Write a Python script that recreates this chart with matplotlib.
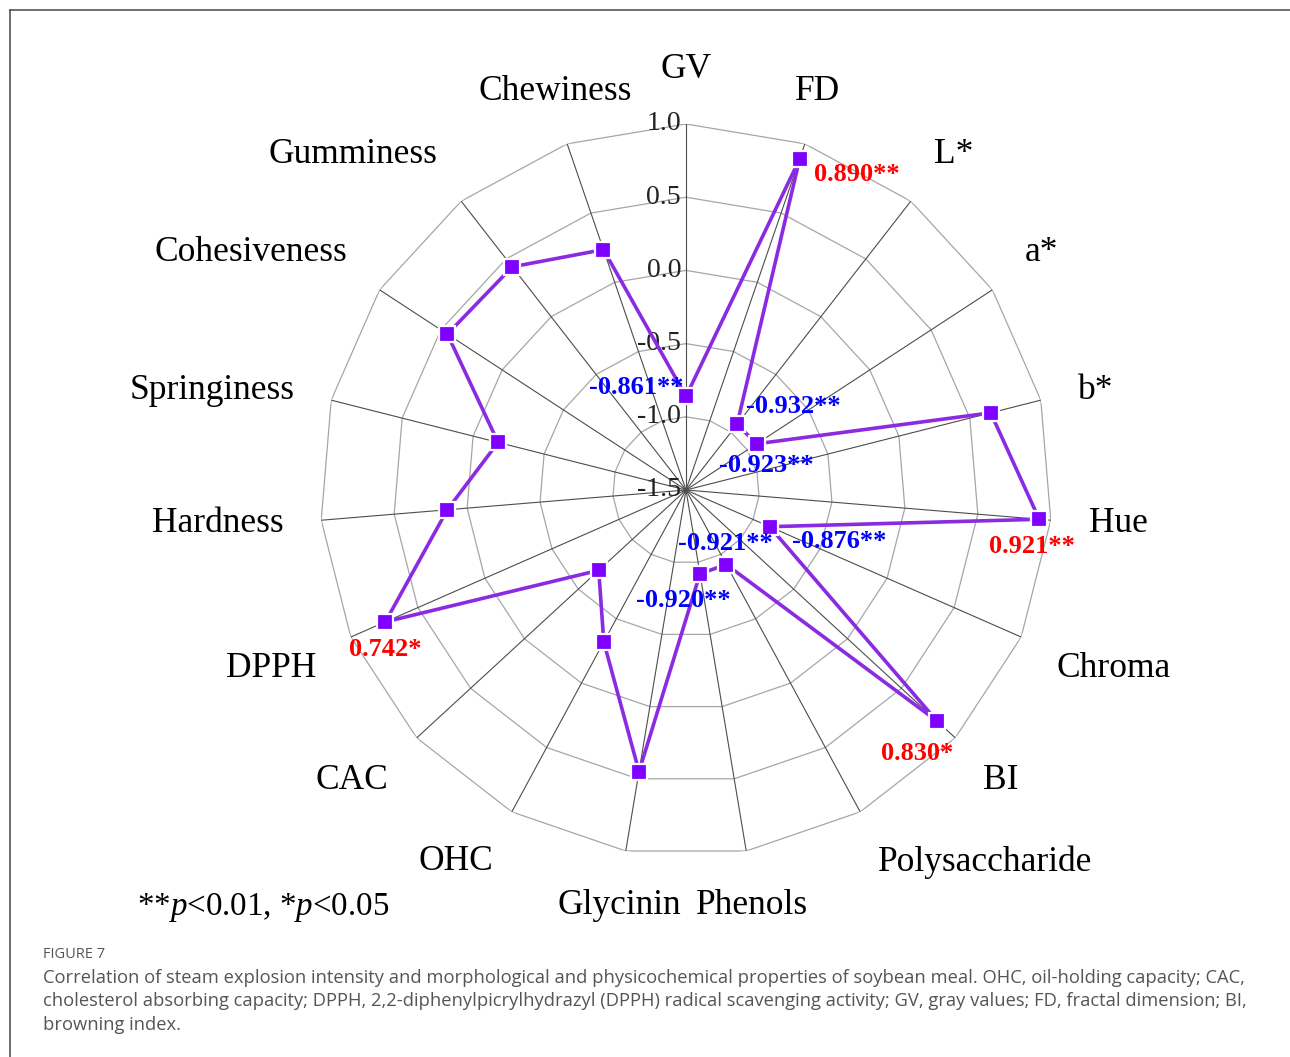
import numpy as np
import matplotlib
matplotlib.use("Agg")
import matplotlib.pyplot as plt
from matplotlib.lines import Line2D

plt.rcParams['font.family'] = ['Liberation Serif', 'DejaVu Serif']
plt.rcParams['mathtext.fontset'] = 'custom'
plt.rcParams['mathtext.rm'] = 'Liberation Serif'
plt.rcParams['mathtext.it'] = 'Liberation Serif:italic'

# correlation coefficients
categories = ["GV", "FD", "L*", "a*", "b*", "Hue", "Chroma", "BI",
              "Polysaccharide", "Phenols", "Glycinin", "OHC", "CAC", "DPPH",
              "Hardness", "Springiness", "Cohesiveness", "Gumminess", "Chewiness"]
values = [-0.861, 0.890, -0.932, -0.923, 0.647, 0.921, -0.876, 0.830,
          -0.921, -0.920, 0.45, -0.32, -0.69, 0.742,
          0.136, -0.176, 0.447, 0.432, 0.236]
value_labels = ["-0.861**", "0.890**", "-0.932**", "-0.923**", "", "0.921**",
                "-0.876**", "0.830*", "-0.921**", "-0.920**", "", "", "",
                "0.742*", "", "", "", "", ""]
ring_levels = [-1.0, -0.5, 0.0, 0.5, 1.0]
tick_levels = [1.0, 0.5, 0.0, -0.5, -1.0, -1.5]

# label offsets (pixels) for the value annotations
label_offsets = {0: (-3, 9, 'right'), 1: (14, -15, 'left'), 2: (9, 18, 'left'),
                 3: (10, -22, 'center'), 5: (-7, -27, 'center'),
                 6: (22, -15, 'left'), 7: (-20, -32, 'center'),
                 8: (-1, 21, 'center'), 9: (-17, -27, 'center'),
                 13: (0, -28, 'center')}

W, H = 1290, 1057
fig = plt.figure(figsize=(W / 100, H / 100), dpi=100)

# center at (686, 490) px, radius of 1.0 ring = 366 px
cx, cy, R = 686, 490, 366
ax = fig.add_axes([(cx - R) / W, (H - cy - R) / H, 2 * R / W, 2 * R / H],
                  projection='polar')
ax.set_theta_zero_location('N')
ax.set_theta_direction(-1)
ax.set_ylim(-1.5, 1.0)
ax.grid(False)
ax.set_xticks([])
ax.set_yticks([])
ax.spines['polar'].set_visible(False)
ax.patch.set_visible(False)

n = len(categories)
theta = np.arange(n) * 2 * np.pi / n
theta_c = np.append(theta, theta[0])

for lv in ring_levels:
    ax.plot(theta_c, [lv] * (n + 1), color='#a6a6a6', lw=0.9, zorder=1)
for t in theta:
    ax.plot([t, t], [-1.5, 1.0], color='#4d4d4d', lw=0.8, zorder=1)

for lv in tick_levels:
    ax.annotate(f"{lv:.1f}", xy=(0, lv), xytext=(-5, 0), textcoords='offset pixels',
                ha='right', va='center', fontsize=20, color='#222222', zorder=2)

vals_c = np.append(values, values[0])
ax.plot(theta_c, vals_c, color='#8a2be2', lw=2.6, zorder=3, clip_on=False)
ax.plot(theta, values, ls='none', marker='s', ms=12, mfc='#7f00ff',
        mec='white', mew=1.6, zorder=4, clip_on=False)

for t, name in zip(theta, categories):
    s, c = np.sin(t), np.cos(t)
    ha = 'left' if s > 0.4 else ('right' if s < -0.4 else 'center')
    va = 'bottom' if c > 0.3 else ('top' if c < -0.3 else 'center')
    ax.text(t, 1.26, name, ha=ha, va=va, fontsize=25.5, color='black')

for i, (dx, dy, ha) in label_offsets.items():
    col = 'red' if values[i] > 0 else 'blue'
    ax.annotate(value_labels[i], xy=(theta[i], values[i]), xytext=(dx, dy),
                textcoords='offset pixels', ha=ha, va='center', fontsize=19,
                fontweight='bold', color=col, zorder=5, annotation_clip=False)

fig.text(137 / W, 1 - 907 / H, r"**$p$<0.01, *$p$<0.05", fontsize=23.8,
         ha='left', va='center')

# panel border
fig.add_artist(Line2D([10 / W, 10 / W], [0, 1 - 10 / H], color='#555555', lw=1.2))
fig.add_artist(Line2D([10 / W, 1], [1 - 10 / H, 1 - 10 / H], color='#555555', lw=1.2))

# caption
cap_font = ['Open Sans', 'DejaVu Sans']
fig.text(43 / W, 1 - 955 / H, "FIGURE 7", fontsize=10.5, color='#555555',
         family=cap_font, ha='left', va='center')
caption = ["Correlation of steam explosion intensity and morphological and physicochemical properties of soybean meal. OHC, oil-holding capacity; CAC,",
           "cholesterol absorbing capacity; DPPH, 2,2-diphenylpicrylhydrazyl (DPPH) radical scavenging activity; GV, gray values; FD, fractal dimension; BI,",
           "browning index."]
for k, line in enumerate(caption):
    fig.text(43 / W, 1 - (978 + 23.5 * k) / H, line, fontsize=13.2, color='#555555',
             family=cap_font, ha='left', va='center')

fig.savefig("out.png", dpi=100)
